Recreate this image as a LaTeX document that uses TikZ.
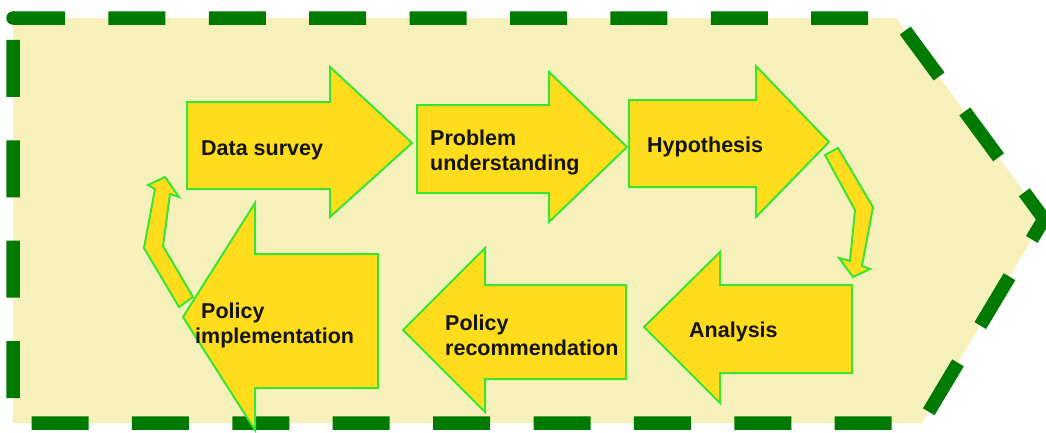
\documentclass[tikz,border=0pt]{standalone}
\usepackage{fontspec}
\setmainfont{Liberation Sans}
\definecolor{bgyellow}{RGB}{246,241,186}
\definecolor{framegreen}{RGB}{0,122,0}
\definecolor{boxyellow}{RGB}{255,221,28}
\definecolor{boxgreen}{RGB}{60,228,50}
\definecolor{txt}{RGB}{20,20,20}
\tikzset{
  bigarrow/.style={fill=boxyellow, draw=boxgreen, line width=2pt, line join=miter},
  lbl/.style={font=\fontsize{21.5}{24.5}\selectfont\bfseries, text=txt, inner sep=0pt, align=left, anchor=base west},
  frameline/.style={draw=framegreen, line width=13.5pt, dash pattern=on 57pt off 43.4pt, dash phase=5pt, fill=bgyellow}
}
\begin{document}
\begin{tikzpicture}[x=1pt,y=-1pt]
\useasboundingbox (0,0) rectangle (1046,432);
% outer frame
\path[frameline] (13,18) -- (896,18) -- (1044,219) -- (922,423) -- (13,423) -- cycle;
\fill[framegreen] (13,18) circle (6.75);
% small bent connectors
\path[bigarrow] (179,307) -- (144,248) -- (155,189) -- (148,185) -- (165,177) -- (179,197) -- (170,194) -- (163,246) -- (193,297) -- cycle;
\path[bigarrow] (825,155) -- (838,148) -- (873,207) -- (862,266) -- (870,269) -- (853,277) -- (839,258) -- (850,261) -- (855,210) -- cycle;
% big arrows
\path[bigarrow] (187,102) -- (330,102) -- (330,67) -- (412,143) -- (330,217) -- (330,189) -- (187,189) -- cycle;
\path[bigarrow] (417,105) -- (549,105) -- (549,72) -- (627,147) -- (549,222) -- (549,193) -- (417,193) -- cycle;
\path[bigarrow] (629,100) -- (756,100) -- (756,66) -- (829,142) -- (756,217) -- (756,187) -- (629,187) -- cycle;
\path[bigarrow] (852,285) -- (720,285) -- (720,252) -- (644,327) -- (720,403) -- (720,373) -- (852,373) -- cycle;
\path[bigarrow] (626,285) -- (485,285) -- (485,248) -- (403,330) -- (485,412) -- (485,379) -- (626,379) -- cycle;
\path[bigarrow] (378,254) -- (255,254) -- (255,203) -- (183,317) -- (255,430) -- (255,388) -- (378,388) -- cycle;
% labels
\node[lbl] (ds) at (201,155) {Data survey};
\node[lbl] (pu) at (430,170) {Problem\\understanding};
\node[lbl] (hy) at (647,152) {Hypothesis};
\node[lbl] (an) at (689,337) {Analysis};
\node[lbl] (pr) at (445,355) {Policy\\recommendation};
\node[lbl] (pi) at (195,343) {\hspace*{6pt}Policy\\implementation};
\end{tikzpicture}
\end{document}
